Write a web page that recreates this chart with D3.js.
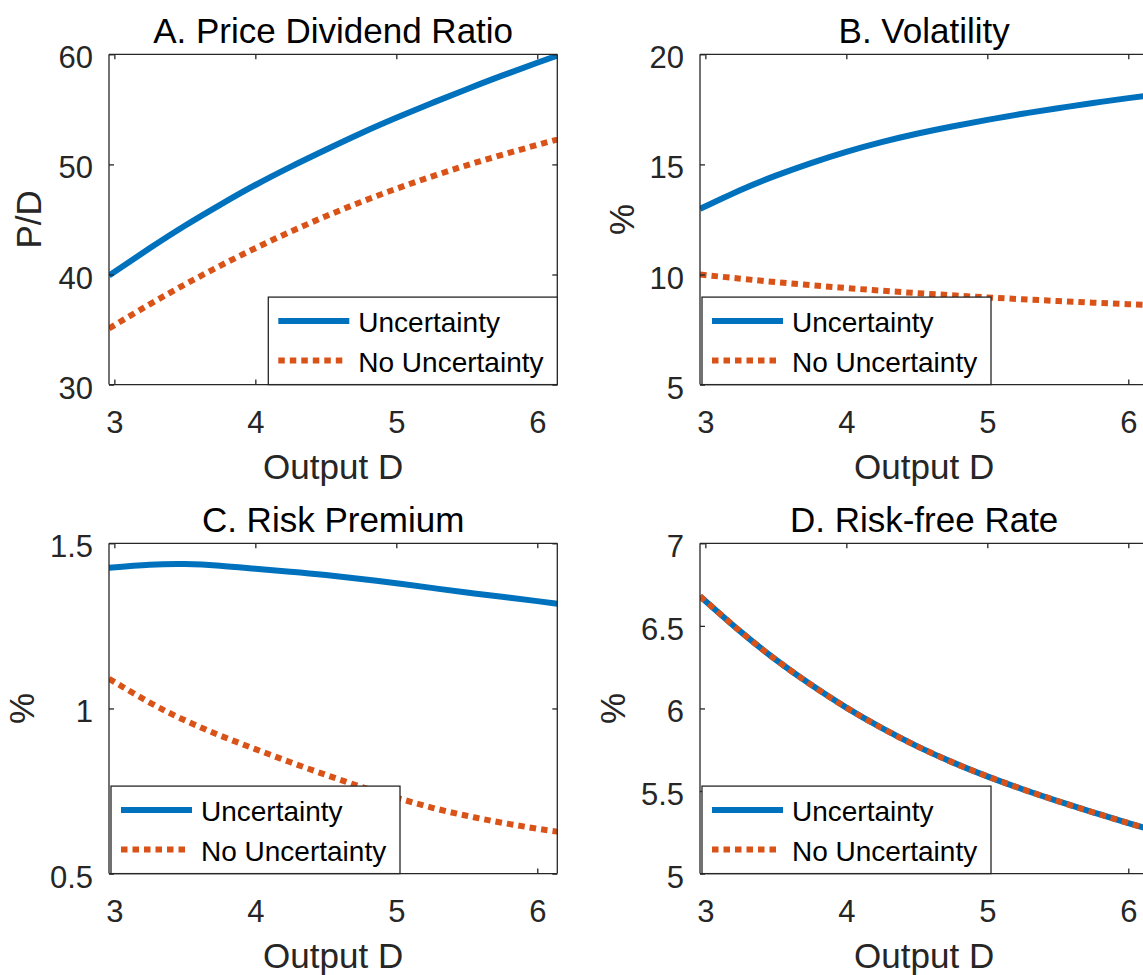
<!DOCTYPE html>
<html><head><meta charset="utf-8">
<script src="https://cdn.jsdelivr.net/npm/d3@7"></script>
<style>
body{margin:0;background:#fff}
svg{display:block}
text{font-family:"Liberation Sans",Arial,Helvetica,sans-serif}
</style>
</head><body>
<svg id="c" width="1143" height="975"></svg>
<script>
// ---- data ----
const outputD = [2.962, 3.25, 3.5, 3.75, 4.0, 4.25, 4.5, 4.75, 5.0, 5.25, 5.5, 5.75, 6.0, 6.142];
const xTicks = [3, 4, 5, 6];
const seriesNames = ["Uncertainty", "No Uncertainty"];

const pdUncertainty   = [39.9, 42.38, 44.43, 46.33, 48.13, 49.78, 51.33, 52.83, 54.23, 55.56, 56.83, 58.06, 59.23, 59.88];
const pdNoUncertainty = [35.1, 37.29, 39.09, 40.79, 42.39, 43.89, 45.29, 46.59, 47.79, 48.89, 49.92, 50.87, 51.77, 52.25];

const volUncertainty   = [12.98, 13.84, 14.49, 15.06, 15.57, 16.01, 16.39, 16.72, 17.02, 17.3, 17.55, 17.79, 18.01, 18.13];
const volNoUncertainty = [10.0, 9.81, 9.655, 9.515, 9.385, 9.265, 9.155, 9.055, 8.96, 8.875, 8.795, 8.72, 8.65, 8.61];

const rpUncertainty   = [1.426, 1.435, 1.437, 1.432, 1.423, 1.414, 1.404, 1.392, 1.379, 1.365, 1.351, 1.338, 1.325, 1.317];
const rpNoUncertainty = [1.09, 1.018, 0.964, 0.918, 0.877, 0.837, 0.799, 0.763, 0.730, 0.700, 0.675, 0.654, 0.636, 0.627];

const rfUncertainty   = [6.68, 6.465, 6.295, 6.143, 6.005, 5.882, 5.772, 5.675, 5.589, 5.511, 5.439, 5.371, 5.306, 5.270];
const rfNoUncertainty = [6.68, 6.465, 6.295, 6.143, 6.005, 5.882, 5.772, 5.675, 5.589, 5.511, 5.439, 5.371, 5.306, 5.270];

const titles  = ["A. Price Dividend Ratio", "B. Volatility", "C. Risk Premium", "D. Risk-free Rate"];
const yLabels = ["P/D", "%", "%", "%"];
const xLabel  = "Output D";
const yTicksA = [30, 40, 50, 60];
const yTicksB = [5, 10, 15, 20];
const yTicksC = [0.5, 1, 1.5];
const yTicksD = [5, 5.5, 6, 6.5, 7];

// ---- layout ----
const W = 448.3, H = 330.3;
const panels = [
  {title: titles[0], ylab: yLabels[0], ticks: yTicksA, dom: [30, 60], a: pdUncertainty, b: pdNoUncertainty, left: 109, top: 54.3, leg: "se", ylabOff: 68},
  {title: titles[1], ylab: yLabels[1], ticks: yTicksB, dom: [5, 20], a: volUncertainty, b: volNoUncertainty, left: 700, top: 54.3, leg: "sw", ylabOff: 66},
  {title: titles[2], ylab: yLabels[2], ticks: yTicksC, dom: [0.5, 1.5], a: rpUncertainty, b: rpNoUncertainty, left: 109, top: 543.3, leg: "sw", ylabOff: 75.5},
  {title: titles[3], ylab: yLabels[3], ticks: yTicksD, dom: [5, 7], a: rfUncertainty, b: rfNoUncertainty, left: 700, top: 543.3, leg: "sw", ylabOff: 75}
];
const AX = "#262626", BLUE = "#0072BD", ORANGE = "#D95319";
const LW = 6, DASH = "6.5 5";

const svg = d3.select("#c");
const xDomain = d3.extent(outputD);

panels.forEach((p, i) => {
  const g = svg.append("g").attr("transform", `translate(${p.left},${p.top})`);
  const x = d3.scaleLinear().domain(xDomain).range([0, W]);
  const y = d3.scaleLinear().domain(p.dom).range([H, 0]);

  const cid = "clip" + i;
  g.append("clipPath").attr("id", cid).append("rect").attr("width", W).attr("height", H);

  const line = d3.line().x((d, k) => x(outputD[k])).y(d => y(d)).curve(d3.curveNatural);
  const lines = g.append("g").attr("clip-path", `url(#${cid})`);
  lines.append("path").attr("d", line(p.a)).attr("fill", "none").attr("stroke", BLUE).attr("stroke-width", LW);
  lines.append("path").attr("d", line(p.b)).attr("fill", "none").attr("stroke", ORANGE).attr("stroke-width", LW).attr("stroke-dasharray", DASH);

  // axes (ticks inward, box)
  const tl = 5;
  const axB = d3.axisBottom(x).tickValues(xTicks).tickSize(-tl).tickPadding(24).tickFormat(d3.format("d"));
  const axT = d3.axisTop(x).tickValues(xTicks).tickSize(-tl).tickFormat("");
  const axL = d3.axisLeft(y).tickValues(p.ticks).tickSize(-tl).tickPadding(16).tickFormat(d => String(d));
  const axR = d3.axisRight(y).tickValues(p.ticks).tickSize(-tl).tickFormat("");
  const gb = g.append("g").attr("transform", `translate(0,${H})`).call(axB);
  const gt = g.append("g").call(axT);
  const gl = g.append("g").call(axL);
  const gr = g.append("g").attr("transform", `translate(${W},0)`).call(axR);
  [gb, gt, gl, gr].forEach(a => {
    a.select(".domain").attr("stroke", AX).attr("stroke-width", 1.3);
    a.selectAll(".tick line").attr("stroke", AX).attr("stroke-width", 1.3);
    a.selectAll(".tick text").attr("fill", AX).style("font-size", "31px").style("font-family", '"Liberation Sans",Arial,sans-serif');
  });
  gb.selectAll(".tick text").attr("dy", null).attr("y", 48.3).attr("dominant-baseline", "auto");
  gl.selectAll(".tick text").attr("dy", null).attr("y", 13.5);
  gb.select(".domain").attr("d", `M0,0H${W}`);
  gt.select(".domain").attr("d", `M0,0H${W}`);
  gl.select(".domain").attr("d", `M0,0V${H}`);
  gr.select(".domain").attr("d", `M0,0V${H}`);

  // title
  g.append("text").attr("x", W / 2).attr("y", -11.6).attr("text-anchor", "middle")
    .style("font-size", "35px").attr("fill", "#000").text(p.title);
  // x label
  g.append("text").attr("x", W / 2).attr("y", H + 94.5).attr("text-anchor", "middle")
    .style("font-size", "35px").attr("fill", AX).text(xLabel);
  // y label
  g.append("text").attr("transform", `translate(${-p.ylabOff},${H / 2}) rotate(-90)`).attr("text-anchor", "middle")
    .style("font-size", "35px").attr("fill", AX).text(p.ylab);

  // legend
  const lw = 290, lh = 87.5;
  const lx = p.leg === "se" ? W - lw + 1 : 2;
  const ly = H - lh;
  const lg = g.append("g").attr("transform", `translate(${lx},${ly})`);
  lg.append("rect").attr("width", lw - 1).attr("height", lh).attr("fill", "#fff").attr("stroke", AX).attr("stroke-width", 1.3);
  const rows = [{c: BLUE, dash: null, name: seriesNames[0], yy: 24}, {c: ORANGE, dash: DASH, name: seriesNames[1], yy: 63.3}];
  rows.forEach(r => {
    const ln = lg.append("line").attr("x1", 10).attr("x2", r.dash ? 76 : 81).attr("y1", r.yy).attr("y2", r.yy)
      .attr("stroke", r.c).attr("stroke-width", LW);
    if (r.dash) ln.attr("stroke-dasharray", DASH);
    lg.append("text").attr("x", 90).attr("y", r.yy + 11.3).style("font-size", "28px").attr("fill", "#000").text(r.name);
  });
});
</script>
</body></html>
